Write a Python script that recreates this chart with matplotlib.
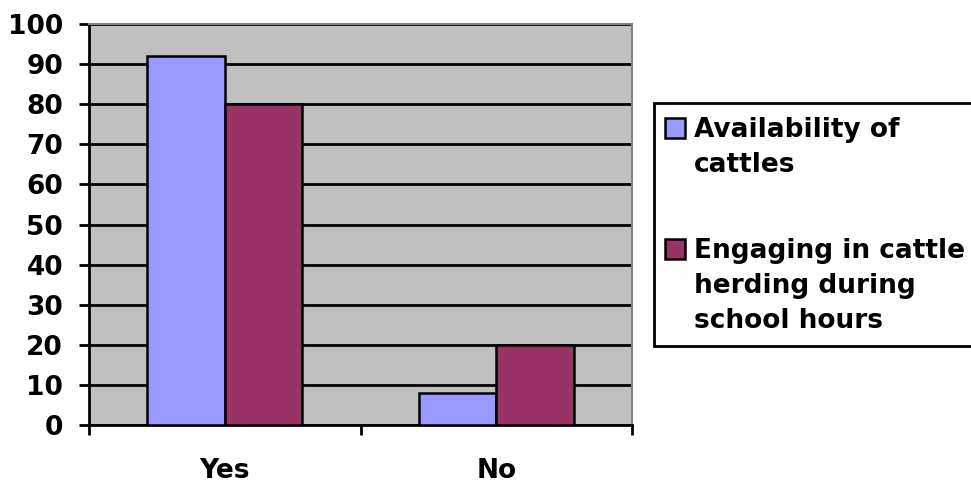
import matplotlib
matplotlib.use("Agg")
import matplotlib.pyplot as plt
from matplotlib.patches import Rectangle
import numpy as np

categories = ["Yes", "No"]
series_lines = [["Availability of", "cattles"],
                ["Engaging in cattle", "herding during", "school hours"]]
availability = [92, 8]
engaging = [80, 20]
colors = ["#9999FF", "#993366"]

plt.rcParams['font.family'] = ['DejaVu Sans']
plt.rcParams['font.weight'] = 'bold'

W, H = 971, 486
fig = plt.figure(figsize=(W/100, H/100), dpi=100)
ax = fig.add_axes([89/W, 1-425/H, (632-89)/W, (425-24)/H])
ax.set_facecolor("#C0C0C0")

x = np.arange(len(categories))
w = 0.285
ax.bar(x - w/2, availability, w, color=colors[0], edgecolor="black", linewidth=1.8, zorder=3)
ax.bar(x + w/2, engaging, w, color=colors[1], edgecolor="black", linewidth=1.8, zorder=3)

ax.set_xlim(-0.5, 1.5)
ax.set_ylim(0, 100)
ax.set_yticks(range(0, 101, 10))
ax.yaxis.grid(True, color="black", linewidth=2, zorder=1)
ax.set_axisbelow(True)
ax.tick_params(axis='y', labelsize=19, width=2, length=7.2, direction='out', pad=11.5)
ax.set_xticks([-0.5, 0.5, 1.5])
ax.set_xticklabels([])
ax.set_xticks(x, minor=True)
ax.set_xticklabels(categories, minor=True, fontsize=19, fontweight='bold')
ax.tick_params(axis='x', which='major', width=2, length=7, direction='out')
ax.tick_params(axis='x', which='minor', length=0, pad=24)
for lab in ax.get_yticklabels():
    lab.set_fontweight('bold')

for s in ['left', 'bottom']:
    ax.spines[s].set_linewidth(2)
    ax.spines[s].set_color('black')
for s in ['top', 'right']:
    ax.spines[s].set_linewidth(1.5)
    ax.spines[s].set_color('#808080')

# legend (hand-built so the swatch sits on the first text line)
def fx(px):
    return px / W
def fy(py):
    return 1 - py / H

fig.patches.append(Rectangle((fx(654), fy(346)), fx(980) - fx(654), fy(103) - fy(346),
                             transform=fig.transFigure, facecolor='white',
                             edgecolor='black', linewidth=2, zorder=1))
swatch_tops = [118, 239]
first_baselines = [137, 258]
line_gap = 35
for i, lines in enumerate(series_lines):
    t = swatch_tops[i]
    fig.patches.append(Rectangle((fx(665), fy(t + 20)), fx(20), fy(t) - fy(t + 20),
                                 transform=fig.transFigure, facecolor=colors[i],
                                 edgecolor='black', linewidth=1.8, zorder=2))
    for j, line in enumerate(lines):
        fig.text(fx(694), fy(first_baselines[i] + j * line_gap), line, fontsize=19,
                 fontweight='bold', va='baseline', ha='left')

fig.savefig("out.png", dpi=100)
